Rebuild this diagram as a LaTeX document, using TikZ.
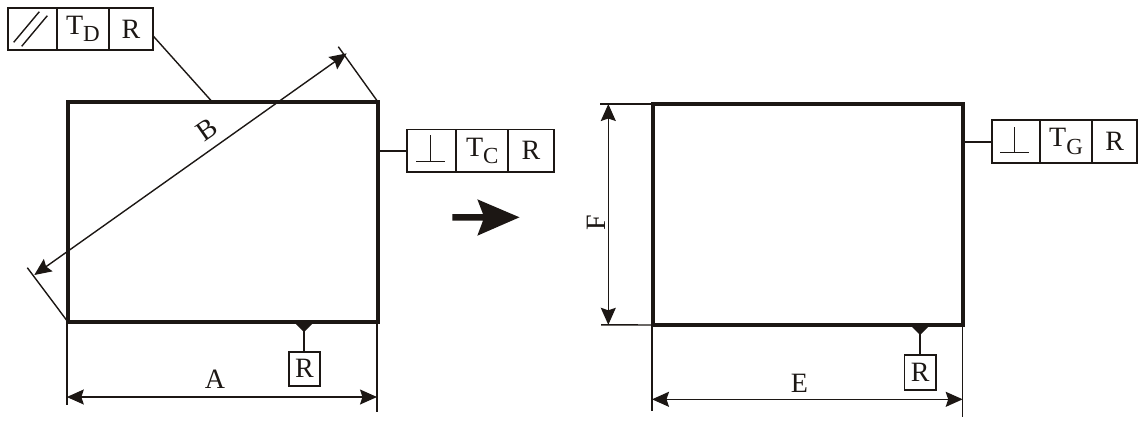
\documentclass[tikz,border=0pt]{standalone}
\usepackage{fontspec}
\setmainfont{Liberation Serif}
\usetikzlibrary{arrows.meta}
\definecolor{ink}{HTML}{1C1714}
\newcommand{\Tsub}[1]{T\raisebox{-0.27em}{\fontsize{23}{23}\selectfont #1}}
\tikzset{
  thin line/.style={draw=ink,line width=1.4pt},
  frame line/.style={draw=ink,line width=3.8pt,line join=miter},
  dim line/.style={thin line,{Stealth[length=17pt,width=15pt,inset=2.5pt]}-{Stealth[length=17pt,width=15pt,inset=2.5pt]}},
  cell/.style={draw=ink,line width=1.7pt,inner sep=0pt,outer sep=0pt,text=ink,
    font=\fontsize{28}{28}\selectfont,anchor=north west},
  lbl/.style={inner sep=0pt,text=ink,font=\fontsize{28}{28}\selectfont},
  datum/.style={cell,anchor=center,minimum width=31.5pt,minimum height=34pt},
  weld/.style={fill=ink,draw=none}
}
\begin{document}
\begin{tikzpicture}[x=1pt,y=-1pt]
\useasboundingbox (0,0) rectangle (1139,421);

% ---- left part
\node[frame line,draw,inner sep=0pt,outer sep=0pt,minimum width=310pt,minimum height=220pt,anchor=north west] (rectL) at (68,102) {};
% top frame
\node[cell,minimum width=49pt,minimum height=42pt] (tPar) at (8,8) {};
\node[cell,minimum width=52pt,minimum height=42pt] (tD) at (57,8) {\Tsub{D}};
\node[cell,minimum width=44.5pt,minimum height=42pt] (tR) at (108.7,8) {R};
\coordinate (p1a) at (13.7,42.3); \coordinate (p1b) at (39.3,11.7);
\coordinate (p2a) at (21.7,46.3); \coordinate (p2b) at (47.3,15.7);
\draw[thin line] (p1a) -- (p1b);
\draw[thin line] (p2a) -- (p2b);
\coordinate (topL) at (211,100.5);
\draw[thin line] (tR.east |- 0,36) -- (topL);
% side frame C
\node[cell,minimum width=49pt,minimum height=42.5pt] (cPerp) at (407.3,129.5) {};
\node[cell,minimum width=52pt,minimum height=42.5pt] (cT) at (456.3,129.5) {\Tsub{C}};
\node[cell,minimum width=45.5pt,minimum height=42.5pt] (cR) at (508.3,129.5) {R};
\coordinate (cb1) at (416,161.3); \coordinate (cb2) at (445,161.3);
\coordinate (cs1) at (430.3,161.3); \coordinate (cs2) at (430.3,135);
\draw[thin line] (cb1) -- (cb2);
\draw[thin line] (cs1) -- (cs2);
\draw[thin line] (rectL.east |- 0,151) -- (cPerp.west |- 0,151);
% diagonal B
\coordinate (bTip) at (346.7,53.3); \coordinate (bEnd) at (34.3,275);
\coordinate (bx1) at (338.3,46.7); \coordinate (bx2) at (27.3,267.7);
\draw[dim line] (bEnd) -- (bTip);
\draw[thin line] (bx1) -- (rectL.north east);
\draw[thin line] (bx2) -- (rectL.south west);
\node[lbl,rotate=35] (labB) at (207,130) {B};
% dim A
\coordinate (aL) at (66.8,405); \coordinate (aR) at (377,411.5);
\draw[thin line] (66.8,322) -- (aL);
\draw[thin line] (377,322) -- (aR);
\coordinate (aa) at (66.8,397); \coordinate (ab) at (377,397);
\draw[dim line] (aa) -- (ab);
\node[lbl] (labA) at (215,379) {A};
% datum R left
\node[datum] (dL) at (304.5,368.8) {R};
\draw[line width=1.5pt,draw=ink] (304,322) -- (dL.north -| 304,0);
\fill[weld] (295.5,323.5) -- (312.7,323.5) -- (304,332) -- cycle;

% ---- big arrow
\fill[ink] (452.3,214) -- (483,214) -- (477.3,199.3) -- (519.5,217.3) -- (477.3,235.7) -- (483,220.6) -- (452.3,220.6) -- cycle;

% ---- right part
\node[frame line,draw,inner sep=0pt,outer sep=0pt,minimum width=310pt,minimum height=221pt,anchor=north west] (rectR) at (653,104) {};
\node[cell,minimum width=48pt,minimum height=42.5pt] (gPerp) at (991.7,120.3) {};
\node[cell,minimum width=52.6pt,minimum height=42.5pt] (gT) at (1039.7,120.3) {\Tsub{G}};
\node[cell,minimum width=45pt,minimum height=42.5pt] (gR) at (1092.3,120.3) {R};
\coordinate (gb1) at (1000,152.3); \coordinate (gb2) at (1029,152.3);
\coordinate (gs1) at (1014.3,152.3); \coordinate (gs2) at (1014.3,126.7);
\draw[thin line] (gb1) -- (gb2);
\draw[thin line] (gs1) -- (gs2);
\draw[thin line] (rectR.east |- 0,142) -- (gPerp.west |- 0,142);
% dim F
\coordinate (fx1) at (600,104); \coordinate (fx2) at (601,324.8);
\draw[thin line] (fx1) -- (rectR.north west);
\draw[thin line] (fx2) -- (rectR.south west);
\coordinate (fa) at (608.3,104); \coordinate (fb) at (608.3,324.8);
\draw[dim line] (fa) -- (fb);
\node[lbl,rotate=90] (labF) at (596,222.7) {F};
% dim E
\coordinate (eL) at (652,411); \coordinate (eR) at (962.7,417.3);
\draw[thin line] (652,325) -- (eL);
\draw[thin line] (962.7,325) -- (eR);
\coordinate (ea) at (652,399.3); \coordinate (eb) at (962.7,399.3);
\draw[dim line] (ea) -- (eb);
\node[lbl] (labE) at (799.3,383.3) {E};
% datum R right
\node[datum,minimum height=35pt] (dR) at (920.2,372.5) {R};
\draw[line width=1.5pt,draw=ink] (920,325) -- (dR.north -| 920,0);
\fill[weld] (911.5,326.5) -- (928.7,326.5) -- (920,335) -- cycle;
\end{tikzpicture}
\end{document}
